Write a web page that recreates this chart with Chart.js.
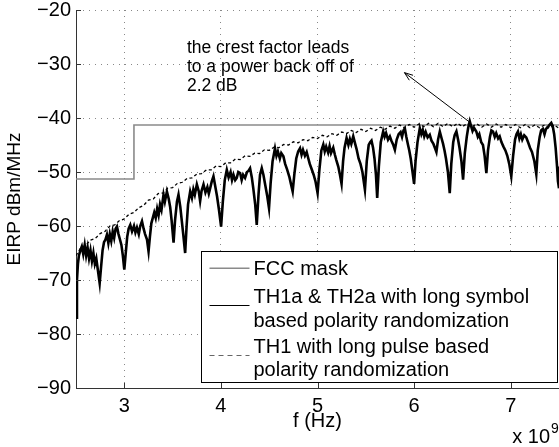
<!DOCTYPE html>
<html><head><meta charset="utf-8">
<script src="https://cdn.jsdelivr.net/npm/chart.js@4/dist/chart.umd.min.js"></script>
<style>html,body{margin:0;padding:0;background:#fff}</style>
</head><body>
<canvas id="c" width="559" height="447"></canvas>
<script>
// ---- data (frequency in GHz, shown as x 10^9 Hz; EIRP in dBm/MHz) ----
const xTicks = [3, 4, 5, 6, 7];
const yTicks = [-90, -80, -70, -60, -50, -40, -30, -20];
const seriesNames = ['FCC mask', 'TH1a & TH2a with long symbol based polarity randomization', 'TH1 with long pulse based polarity randomization'];
const legendLines = [['FCC mask'], ['TH1a & TH2a with long symbol', 'based polarity randomization'], ['TH1 with long pulse based', 'polarity randomization']];
const annotationLines = ['the crest factor leads', 'to a power back off of', '2.2 dB'];
const annotationAt = [3.648, -27.9];
const arrowFrom = [5.90, -31.6];
const arrowTo = [6.57, -40.7];

const fccFreq = [2.5, 3.1, 3.1, 7.5];
const fccEirp = [-51.3, -51.3, -41.3, -41.3];

const th1aFreq = [2.50,2.51,2.52,2.53,2.545,2.56,2.575,2.59,2.605,2.62,2.635,2.65,2.665,2.68,2.695,2.71,2.725,2.745,2.76,2.775,2.79,2.805,2.82,2.835,2.85,2.865,2.88,2.895,2.91,2.924,2.94,2.955,2.97,2.985,3.00,3.015,3.03,3.045,3.062,3.08,3.10,3.115,3.131,3.15,3.165,3.183,3.20,3.215,3.235,3.251,3.265,3.28,3.295,3.31,3.325,3.34,3.355,3.37,3.385,3.406,3.42,3.441,3.46,3.475,3.49,3.51,3.525,3.545,3.561,3.58,3.595,3.61,3.63,3.645,3.66,3.682,3.70,3.715,3.73,3.751,3.77,3.785,3.80,3.82,3.84,3.86,3.875,3.889,3.905,3.923,3.94,3.96,3.98,4.002,4.02,4.04,4.061,4.08,4.10,4.115,4.13,4.148,4.164,4.18,4.199,4.215,4.23,4.25,4.27,4.285,4.302,4.32,4.335,4.355,4.371,4.39,4.405,4.423,4.44,4.46,4.48,4.498,4.515,4.535,4.56,4.575,4.59,4.61,4.625,4.647,4.665,4.685,4.71,4.725,4.743,4.76,4.78,4.80,4.819,4.835,4.85,4.87,4.888,4.905,4.92,4.94,4.96,4.98,5.001,5.02,5.04,5.06,5.075,5.09,5.11,5.125,5.14,5.163,5.18,5.195,5.215,5.23,5.249,5.265,5.28,5.301,5.32,5.335,5.35,5.37,5.39,5.405,5.425,5.445,5.465,5.491,5.51,5.53,5.545,5.559,5.575,5.59,5.605,5.618,5.635,5.655,5.68,5.695,5.71,5.73,5.749,5.765,5.785,5.801,5.82,5.84,5.86,5.875,5.89,5.904,5.92,5.935,5.95,5.965,5.98,6.000,6.015,6.035,6.059,6.075,6.09,6.105,6.12,6.14,6.162,6.18,6.20,6.215,6.231,6.248,6.266,6.285,6.30,6.315,6.33,6.35,6.369,6.385,6.405,6.42,6.438,6.455,6.47,6.49,6.507,6.525,6.545,6.56,6.576,6.59,6.605,6.62,6.644,6.66,6.675,6.695,6.713,6.73,6.748,6.765,6.785,6.80,6.817,6.835,6.85,6.87,6.886,6.905,6.925,6.945,6.965,6.985,7.006,7.025,7.045,7.06,7.075,7.09,7.105,7.12,7.14,7.161,7.18,7.20,7.22,7.245,7.265,7.28,7.30,7.315,7.333,7.35,7.365,7.38,7.40,7.42,7.435,7.45,7.465,7.48,7.489,7.50];
const th1aEirp = [-77,-70,-67,-65.5,-64.5,-63.8,-65.2,-63.5,-65.5,-64,-66,-64.5,-66.5,-65,-67,-66,-68,-70.6,-67.5,-64.5,-63,-62.5,-61.6,-63.2,-61.5,-62.8,-61,-62.2,-60.5,-60.1,-61.5,-62.5,-63.5,-65.5,-68.1,-65,-62,-60.5,-59.8,-61,-60,-61.2,-60.3,-61.5,-60,-59.1,-60.5,-61.5,-62.5,-64.7,-62,-59.5,-58.5,-57.5,-58.5,-56.8,-58,-56,-57,-54.2,-55.5,-53.6,-55,-56.5,-59,-63.1,-59,-55.5,-54.2,-56.5,-59,-61.5,-65.0,-60,-56,-53.6,-54.8,-53.2,-54.2,-52.3,-53.5,-55.4,-53.5,-52.3,-53.8,-52.8,-54,-53,-51.8,-50.8,-52.5,-54.5,-57,-60.1,-55.5,-51.5,-49.6,-51,-50,-51.5,-50.5,-51.5,-51.1,-50,-50.2,-51.5,-50.5,-51.1,-50,-49.8,-49.3,-51,-53,-56,-59.8,-54,-50.5,-49.3,-50.5,-52.5,-54.5,-56.7,-52,-48,-45.6,-47,-46.2,-47.5,-46.5,-47.1,-48.5,-49.5,-51,-52.2,-53.6,-50.5,-47.5,-46.2,-45.6,-46.8,-45.9,-47,-46.3,-47.5,-48.5,-49.5,-50.5,-51.8,-53.9,-49.5,-46,-44.9,-46.2,-45.3,-46.4,-45.2,-46.5,-45.5,-46.8,-47.8,-49,-50.3,-52.2,-48,-45.5,-43.7,-45,-43.9,-44.8,-43.4,-44.8,-45.8,-47.5,-48.5,-50,-53.3,-48,-45,-44.5,-44.2,-45.5,-47.5,-50.5,-54.8,-49,-44.5,-42.5,-43.5,-42.8,-44,-43.4,-44.2,-45,-45.9,-44,-43,-42.6,-43.5,-42.3,-41.9,-43.5,-44.8,-46,-47.5,-49.5,-52.2,-48,-44.5,-41.9,-43,-42.2,-43.4,-42.6,-43.6,-43.1,-44.2,-44.8,-45.5,-46.3,-44,-42.5,-43.8,-44.8,-46,-47.5,-50,-53.9,-48.5,-44.5,-43.2,-42.5,-44,-45.5,-48,-51.4,-46.5,-43.5,-41.8,-40.6,-41.5,-42.4,-41.8,-42.5,-43.5,-43,-44.5,-45,-47,-50.2,-46,-43.5,-42.3,-42.5,-43.5,-42.8,-43.8,-43.4,-44.5,-45.3,-46,-47,-48.5,-50.8,-47,-44,-43,-42.5,-43.8,-43,-44,-43.2,-43.6,-44.5,-45.5,-46.3,-48,-50.4,-46,-43.5,-42.3,-42,-43,-42,-41.8,-41.3,-40.9,-41.5,-43,-45.5,-49,-51.7,-53];

const th1Freq = [2.50,2.55,2.60,2.65,2.70,2.75,2.80,2.85,2.90,2.95,3.00,3.05,3.10,3.15,3.20,3.25,3.30,3.35,3.40,3.45,3.50,3.55,3.60,3.65,3.70,3.75,3.80,3.85,3.90,3.95,4.00,4.05,4.10,4.15,4.20,4.25,4.30,4.35,4.40,4.45,4.50,4.55,4.60,4.65,4.70,4.75,4.80,4.85,4.90,4.95,5.00,5.05,5.10,5.15,5.20,5.25,5.30,5.35,5.40,5.45,5.50,5.55,5.60,5.65,5.70,5.75,5.80,5.85,5.90,5.95,6.00,6.05,6.10,6.15,6.20,6.25,6.30,6.35,6.40,6.45,6.50,6.55,6.60,6.65,6.70,6.75,6.80,6.85,6.90,6.95,7.00,7.05,7.10,7.15,7.20,7.25,7.30,7.35,7.40,7.45,7.50];
const th1Eirp = [-65.5,-64.0,-63.6,-62.6,-62.3,-61.4,-61.0,-60.0,-59.8,-59.0,-58.7,-57.8,-57.5,-56.6,-56.2,-55.2,-55.0,-54.0,-53.9,-53.0,-52.9,-52.1,-51.9,-51.2,-51.1,-50.4,-50.3,-49.6,-49.6,-48.9,-49.0,-48.3,-48.3,-47.6,-47.7,-47.0,-47.1,-46.5,-46.6,-45.9,-46.0,-45.4,-45.5,-44.9,-45.0,-44.4,-44.6,-44.0,-44.2,-43.6,-43.8,-43.2,-43.5,-42.9,-43.2,-42.6,-42.9,-42.3,-42.7,-42.1,-42.5,-41.9,-42.3,-41.7,-42.1,-41.5,-41.9,-41.3,-41.8,-41.2,-41.7,-41.1,-41.6,-41.0,-41.6,-41.0,-41.6,-41.0,-41.6,-41.0,-41.6,-41.0,-41.6,-41.1,-41.7,-41.1,-41.7,-41.1,-41.7,-41.2,-41.8,-41.2,-41.8,-41.2,-41.8,-41.3,-41.8,-41.3,-41.9,-41.3,-41.9];

// ---- chart ----
const FONT = "'Liberation Sans', Arial, Helvetica, sans-serif";
const toXY = (xs, ys) => xs.map((x, i) => ({x: x, y: ys[i]}));
const fmtMinus = v => (v < 0 ? '\u2212' + Math.abs(v) : String(v));

const overlay = {
  id: 'overlay',
  afterDraw(chart) {
    const ctx = chart.ctx, ca = chart.chartArea;
    const xs = chart.scales.x, ys = chart.scales.y;
    ctx.save();
    // inward tick marks
    ctx.strokeStyle = '#333'; ctx.lineWidth = 1;
    ctx.beginPath();
    xTicks.forEach(v => { const p = Math.round(xs.getPixelForValue(v)) + 0.5; ctx.moveTo(p, ca.bottom); ctx.lineTo(p, ca.bottom - 5); });
    yTicks.forEach(v => { const p = Math.round(ys.getPixelForValue(v)) + 0.5; ctx.moveTo(ca.left, p); ctx.lineTo(ca.left + 5, p); });
    ctx.stroke();

    // annotation text
    ctx.fillStyle = '#000';
    ctx.font = '17.5px ' + FONT;
    ctx.textAlign = 'left'; ctx.textBaseline = 'alphabetic';
    const ax = xs.getPixelForValue(annotationAt[0]), ay = ys.getPixelForValue(annotationAt[1]);
    annotationLines.forEach((t, i) => ctx.fillText(t, ax, ay + i * 19.2));

    // arrow
    const x1 = xs.getPixelForValue(arrowFrom[0]), y1 = ys.getPixelForValue(arrowFrom[1]);
    const x2 = xs.getPixelForValue(arrowTo[0]), y2 = ys.getPixelForValue(arrowTo[1]);
    ctx.strokeStyle = '#000'; ctx.lineWidth = 1;
    ctx.beginPath(); ctx.moveTo(x1, y1); ctx.lineTo(x2, y2); ctx.stroke();
    const ang = Math.atan2(y1 - y2, x1 - x2);
    ctx.beginPath();
    ctx.moveTo(x1, y1);
    ctx.lineTo(x1 - 9 * Math.cos(ang - 0.35), y1 - 9 * Math.sin(ang - 0.35));
    ctx.moveTo(x1, y1);
    ctx.lineTo(x1 - 9 * Math.cos(ang + 0.35), y1 - 9 * Math.sin(ang + 0.35));
    ctx.stroke();

    // legend box
    const right = ca.right - 1.5, bottom = ca.bottom - 5.5;
    const left = right - 356, top = bottom - 131;
    ctx.fillStyle = '#fff';
    ctx.fillRect(left, top, right - left, bottom - top);
    ctx.strokeStyle = '#000'; ctx.lineWidth = 1;
    ctx.strokeRect(left, top, right - left, bottom - top);
    const sampleY = [16.7, 54, 104];
    const baseY = [[23.3], [51.3, 75.7], [101.3, 124.7]];
    const styles = [
      {c: '#8a8a8a', w: 1.5, d: []},
      {c: '#000', w: 1.2, d: []},
      {c: '#666', w: 1.2, d: [5, 4]}
    ];
    legendLines.forEach((lines, i) => {
      const s = styles[i];
      ctx.strokeStyle = s.c; ctx.lineWidth = s.w; ctx.setLineDash(s.d);
      ctx.beginPath(); ctx.moveTo(left + 8, top + sampleY[i]); ctx.lineTo(left + 48, top + sampleY[i]); ctx.stroke();
      ctx.setLineDash([]);
      ctx.fillStyle = '#000'; ctx.font = '20px ' + FONT;
      lines.forEach((t, j) => ctx.fillText(t, left + 52, top + baseY[i][j]));
    });

    // x 10^9 multiplier
    ctx.fillStyle = '#000';
    ctx.font = '20px ' + FONT; ctx.textAlign = 'right';
    ctx.fillText('x 10', chart.width - 9, 443);
    ctx.font = '14px ' + FONT; ctx.textAlign = 'left';
    ctx.fillText('9', chart.width - 8, 433);
    ctx.restore();
  }
};

new Chart(document.getElementById('c'), {
  type: 'line',
  data: {
    datasets: [
      {label: seriesNames[0], data: toXY(fccFreq, fccEirp), borderColor: '#8a8a8a', borderWidth: 1.6, pointRadius: 0, tension: 0, order: 3},
      {label: seriesNames[1], data: toXY(th1aFreq, th1aEirp), borderColor: '#000', borderWidth: 2.6, pointRadius: 0, tension: 0, order: 2},
      {label: seriesNames[2], data: toXY(th1Freq, th1Eirp), borderColor: '#000', borderWidth: 1.3, borderDash: [3, 2.5], pointRadius: 0, tension: 0, order: 1}
    ]
  },
  options: {
    responsive: false,
    animation: false,
    events: [],
    layout: {padding: {top: 10, right: 0, left: 0, bottom: 0}},
    plugins: {legend: {display: false}, tooltip: {enabled: false}},
    scales: {
      x: {
        type: 'linear', min: 2.5, max: 7.5,
        afterBuildTicks: s => { s.ticks = xTicks.map(v => ({value: v})); },
        afterFit: s => { s.height = 59; s.paddingLeft = 0; s.paddingRight = 0; },
        grid: {color: '#888', lineWidth: 1, drawTicks: false},
        border: {display: true, color: '#333', width: 1, dash: [1, 5]},
        ticks: {color: '#000', font: {family: FONT, size: 20, lineHeight: 1.0}, padding: 8, maxRotation: 0, autoSkip: false, callback: v => String(v)},
        title: {display: true, text: 'f (Hz)', color: '#000', font: {family: FONT, size: 20}, padding: {top: 0, bottom: 14}}
      },
      y: {
        type: 'linear', min: -90, max: -20,
        afterBuildTicks: s => { s.ticks = yTicks.map(v => ({value: v})); },
        afterFit: s => { s.width = 76; s.paddingTop = 0; s.paddingBottom = 0; },
        grid: {color: '#888', lineWidth: 1, drawTicks: false},
        border: {display: true, color: '#333', width: 1, dash: [1, 5]},
        ticks: {color: '#000', font: {family: FONT, size: 20, lineHeight: 1.0}, padding: 5, autoSkip: false, callback: fmtMinus},
        title: {display: true, text: 'EIRP dBm/MHz', color: '#000', font: {family: FONT, size: 19}, padding: {top: 3, bottom: 0}}
      }
    }
  },
  plugins: [overlay]
});
</script>
</body></html>
